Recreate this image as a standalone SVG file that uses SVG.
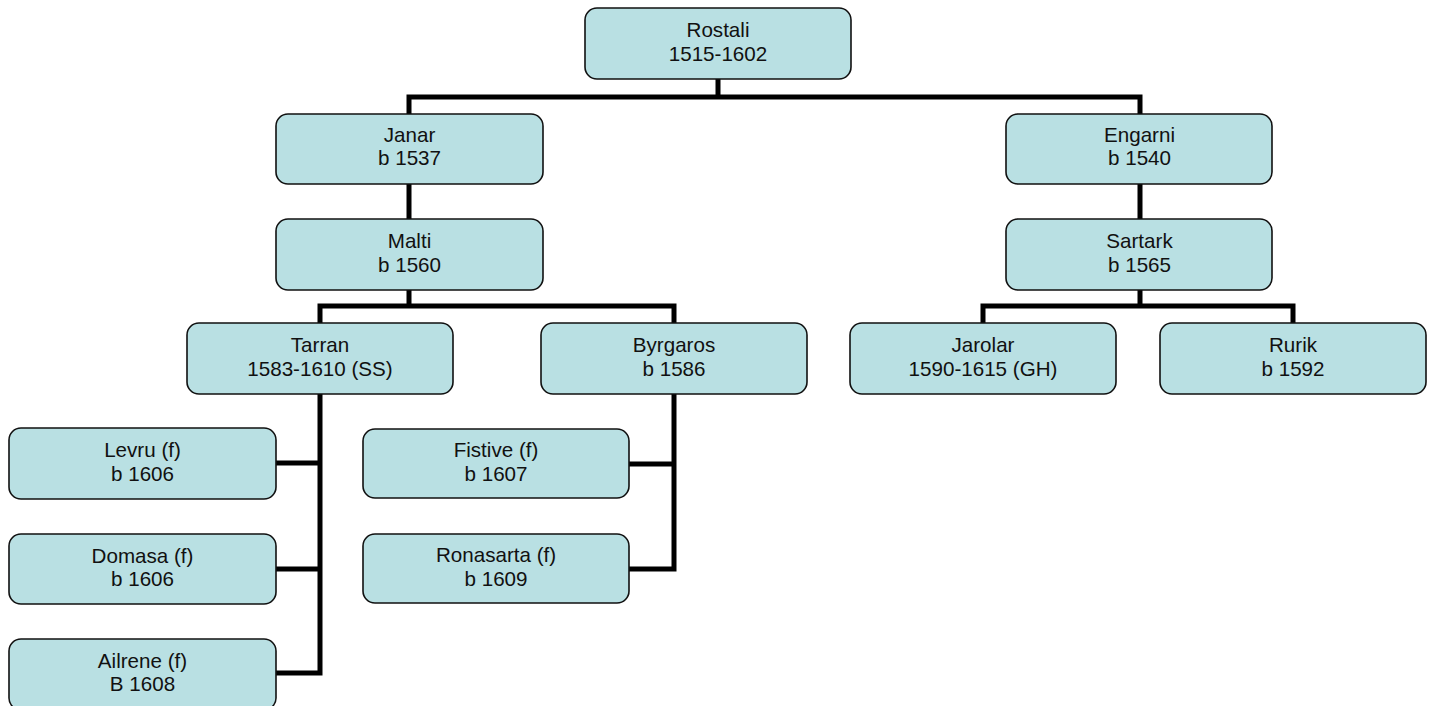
<svg xmlns="http://www.w3.org/2000/svg" width="1434" height="706" viewBox="0 0 1434 706">
<style>
.box{fill:#B9E0E3;stroke:#111;stroke-width:1.6}
.t{font-family:"Liberation Sans",Arial,sans-serif;font-size:20.6px;fill:#111;text-anchor:middle}
.c{fill:none;stroke:#000;stroke-width:5;stroke-linejoin:miter;stroke-linecap:square}
</style>
<rect width="1434" height="706" fill="#fff"/>
<g id="connectors">
<path class="c" d="M718 80V97M409 97H1140M409 97V113M1140 97V113"/>
<path class="c" d="M409 185V218M1140 185V218"/>
<path class="c" d="M409 291V306M320 306H674M320 306V321M674 306V321"/>
<path class="c" d="M1140 291V306M983 306H1293M983 306V321M1293 306V321"/>
<path class="c" d="M320 395V673M278 463H320M278 569H320M278 673H320"/>
<path class="c" d="M674 395V569M631 464H674M631 569H674"/>
</g>
<g id="rostali"><rect class="box" x="585" y="8" width="266" height="71" rx="12"/><text class="t" x="718" y="37">Rostali</text><text class="t" x="718" y="61">1515-1602</text></g>
<g id="janar"><rect class="box" x="276" y="114" width="267" height="70" rx="12"/><text class="t" x="409.5" y="142">Janar</text><text class="t" x="409.5" y="165">b 1537</text></g>
<g id="engarni"><rect class="box" x="1006" y="114" width="266" height="70" rx="12"/><text class="t" x="1139.5" y="142">Engarni</text><text class="t" x="1139.5" y="165">b 1540</text></g>
<g id="malti"><rect class="box" x="276" y="219" width="267" height="71" rx="12"/><text class="t" x="409.5" y="248">Malti</text><text class="t" x="409.5" y="272">b 1560</text></g>
<g id="sartark"><rect class="box" x="1006" y="219" width="266" height="71" rx="12"/><text class="t" x="1139.5" y="248">Sartark</text><text class="t" x="1139.5" y="272">b 1565</text></g>
<g id="tarran"><rect class="box" x="187" y="323" width="266" height="71" rx="12"/><text class="t" x="320" y="352">Tarran</text><text class="t" x="320" y="376">1583-1610 (SS)</text></g>
<g id="byrgaros"><rect class="box" x="541" y="323" width="266" height="71" rx="12"/><text class="t" x="674" y="352">Byrgaros</text><text class="t" x="674" y="376">b 1586</text></g>
<g id="jarolar"><rect class="box" x="850" y="323" width="266" height="71" rx="12"/><text class="t" x="983" y="352">Jarolar</text><text class="t" x="983" y="376">1590-1615 (GH)</text></g>
<g id="rurik"><rect class="box" x="1160" y="323" width="266" height="71" rx="12"/><text class="t" x="1293" y="352">Rurik</text><text class="t" x="1293" y="376">b 1592</text></g>
<g id="levru"><rect class="box" x="9" y="428" width="267" height="71" rx="12"/><text class="t" x="142.5" y="457">Levru (f)</text><text class="t" x="142.5" y="481">b 1606</text></g>
<g id="domasa"><rect class="box" x="9" y="534" width="267" height="70" rx="12"/><text class="t" x="142.5" y="563">Domasa (f)</text><text class="t" x="142.5" y="586">b 1606</text></g>
<g id="ailrene"><rect class="box" x="9" y="639" width="267" height="71" rx="12"/><text class="t" x="142.5" y="668">Ailrene (f)</text><text class="t" x="142.5" y="691">B 1608</text></g>
<g id="fistive"><rect class="box" x="363" y="429" width="266" height="69" rx="12"/><text class="t" x="496" y="457">Fistive (f)</text><text class="t" x="496" y="481">b 1607</text></g>
<g id="ronasarta"><rect class="box" x="363" y="534" width="266" height="69" rx="12"/><text class="t" x="496" y="562">Ronasarta (f)</text><text class="t" x="496" y="586">b 1609</text></g>
</svg>
